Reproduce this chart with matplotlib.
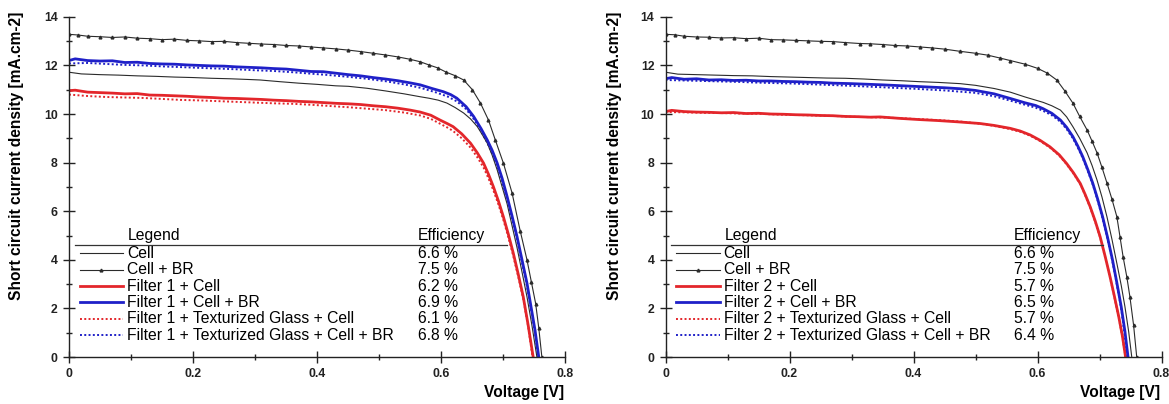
import matplotlib
matplotlib.use("Agg")
import matplotlib.pyplot as plt
from matplotlib.ticker import MultipleLocator

plt.rcParams['font.family'] = ['Liberation Sans', 'DejaVu Sans']

# ---------------- data ----------------
# Left panel (Filter 1)
v_cellbr = [0.000, 0.015, 0.03, 0.05, 0.07, 0.09, 0.11, 0.13, 0.15, 0.17, 0.19, 0.21, 0.23, 0.25,
            0.27, 0.29, 0.31, 0.33, 0.35, 0.37, 0.39, 0.41, 0.43, 0.45, 0.47, 0.49, 0.51, 0.53,
            0.55, 0.566, 0.58, 0.594, 0.608, 0.622, 0.636, 0.65, 0.663, 0.676, 0.687, 0.700,
            0.714, 0.727, 0.738, 0.745, 0.752, 0.757, 0.762]
j_cellbr = [13.28, 13.25, 13.20, 13.18, 13.15, 13.17, 13.12, 13.10, 13.06, 13.08, 13.03, 13.01, 12.98, 12.99,
            12.94, 12.91, 12.88, 12.86, 12.82, 12.80, 12.76, 12.72, 12.68, 12.63, 12.57, 12.50, 12.43, 12.35,
            12.25, 12.15, 12.02, 11.90, 11.72, 11.58, 11.40, 11.00, 10.45, 9.75, 8.93, 7.98,
            6.75, 5.20, 4.00, 3.10, 2.20, 1.20, 0.00]

v_cell_1 = [0.0, 0.02, 0.05, 0.08, 0.11, 0.14, 0.17, 0.20, 0.23, 0.26, 0.29, 0.308, 0.34, 0.37, 0.40,
            0.43, 0.45, 0.48, 0.51, 0.54, 0.566, 0.58, 0.595, 0.609, 0.622, 0.636, 0.647, 0.658,
            0.666, 0.674, 0.682, 0.69, 0.698, 0.706, 0.714, 0.722, 0.730, 0.738, 0.746, 0.754]
j_cell_1 = [11.72, 11.65, 11.62, 11.60, 11.57, 11.55, 11.52, 11.50, 11.47, 11.45, 11.42, 11.40, 11.33, 11.27, 11.22,
            11.16, 11.14, 11.06, 10.95, 10.83, 10.71, 10.65, 10.57, 10.45, 10.27, 10.04, 9.80, 9.48,
            9.15, 8.80, 8.30, 7.70, 7.00, 6.30, 5.40, 4.50, 3.50, 2.48, 1.30, 0.00]

v_f1_br = [0.0, 0.01, 0.03, 0.05, 0.07, 0.09, 0.11, 0.13, 0.15, 0.17, 0.19, 0.21, 0.23, 0.25, 0.27, 0.29,
           0.31, 0.33, 0.35, 0.37, 0.39, 0.41, 0.43, 0.45, 0.47, 0.49, 0.51, 0.53, 0.55, 0.566, 0.585,
           0.603, 0.615, 0.625, 0.64, 0.652, 0.664, 0.674, 0.682, 0.69, 0.698, 0.706, 0.714, 0.722,
           0.730, 0.738, 0.745, 0.751, 0.757]
j_f1_br = [12.20, 12.27, 12.20, 12.18, 12.19, 12.12, 12.13, 12.08, 12.06, 12.05, 12.02, 12.00, 11.98, 11.97, 11.94, 11.92,
           11.90, 11.87, 11.85, 11.80, 11.75, 11.74, 11.68, 11.62, 11.57, 11.50, 11.44, 11.37, 11.28, 11.20, 11.05,
           10.92, 10.80, 10.65, 10.30, 9.90, 9.40, 8.93, 8.50, 7.98, 7.35, 6.60, 5.80, 4.95,
           4.00, 3.04, 2.00, 1.10, 0.00]

v_f1_tg_br = [0.0, 0.03, 0.06, 0.09, 0.12, 0.15, 0.18, 0.21, 0.24, 0.27, 0.30, 0.33, 0.36, 0.39, 0.42,
              0.45, 0.48, 0.51, 0.54, 0.566, 0.59, 0.61, 0.625, 0.64, 0.652, 0.664, 0.674, 0.682,
              0.69, 0.698, 0.706, 0.714, 0.722, 0.730, 0.738, 0.745, 0.751, 0.756]
j_f1_tg_br = [12.08, 12.10, 12.06, 12.02, 12.00, 11.96, 11.93, 11.90, 11.87, 11.84, 11.80, 11.77, 11.72, 11.66, 11.60,
              11.53, 11.45, 11.35, 11.22, 11.08, 10.90, 10.72, 10.52, 10.20, 9.80, 9.30, 8.82, 8.38,
              7.85, 7.22, 6.48, 5.68, 4.82, 3.88, 2.92, 1.90, 1.00, 0.00]

v_f1 = [0.0, 0.01, 0.03, 0.05, 0.07, 0.09, 0.11, 0.13, 0.15, 0.17, 0.19, 0.21, 0.23, 0.25, 0.27, 0.29,
        0.31, 0.33, 0.35, 0.37, 0.39, 0.41, 0.43, 0.45, 0.47, 0.49, 0.51, 0.53, 0.55, 0.566, 0.583,
        0.598, 0.61, 0.619, 0.633, 0.647, 0.658, 0.668, 0.676, 0.684, 0.692, 0.70, 0.708, 0.716,
        0.724, 0.732, 0.740, 0.748]
j_f1 = [10.96, 10.98, 10.90, 10.88, 10.86, 10.83, 10.84, 10.78, 10.77, 10.75, 10.73, 10.70, 10.68, 10.65, 10.64, 10.62,
        10.60, 10.57, 10.55, 10.52, 10.50, 10.47, 10.44, 10.42, 10.39, 10.34, 10.30, 10.24, 10.16, 10.08, 9.95,
        9.75, 9.60, 9.48, 9.18, 8.80, 8.40, 7.98, 7.52, 7.00, 6.42, 5.77, 5.05, 4.27,
        3.40, 2.48, 1.30, 0.00]

v_f1_tg = [0.0, 0.03, 0.06, 0.09, 0.12, 0.15, 0.18, 0.21, 0.24, 0.27, 0.30, 0.33, 0.36, 0.39, 0.42, 0.45,
           0.48, 0.51, 0.54, 0.566, 0.583, 0.598, 0.61, 0.619, 0.633, 0.647, 0.658, 0.668, 0.676,
           0.684, 0.692, 0.70, 0.708, 0.716, 0.724, 0.732, 0.740, 0.747]
j_f1_tg = [10.80, 10.74, 10.70, 10.68, 10.66, 10.62, 10.58, 10.56, 10.53, 10.50, 10.47, 10.44, 10.42, 10.38, 10.33, 10.28,
           10.22, 10.16, 10.06, 9.94, 9.80, 9.60, 9.44, 9.30, 9.00, 8.62, 8.22, 7.80, 7.35,
           6.85, 6.28, 5.64, 4.93, 4.15, 3.30, 2.40, 1.25, 0.00]

# Right panel (Filter 2)
v_cellbr_2 = [0.000, 0.015, 0.03, 0.05, 0.07, 0.09, 0.11, 0.13, 0.15, 0.17, 0.19, 0.21, 0.23, 0.25,
              0.27, 0.29, 0.314, 0.33, 0.35, 0.37, 0.39, 0.41, 0.43, 0.45, 0.475, 0.50, 0.52, 0.54,
              0.556, 0.58, 0.60, 0.616, 0.631, 0.644, 0.657, 0.668, 0.68, 0.688, 0.696, 0.704,
              0.712, 0.720, 0.728, 0.733, 0.738, 0.744, 0.749, 0.755, 0.760]
j_cellbr_2 = [13.28, 13.26, 13.20, 13.17, 13.16, 13.13, 13.14, 13.10, 13.12, 13.06, 13.05, 13.03, 13.01, 12.99,
              12.98, 12.94, 12.90, 12.89, 12.86, 12.82, 12.80, 12.76, 12.72, 12.67, 12.58, 12.50, 12.42, 12.30,
              12.20, 12.05, 11.88, 11.68, 11.40, 10.95, 10.45, 9.90, 9.34, 8.88, 8.40, 7.80,
              7.16, 6.50, 5.77, 4.95, 4.13, 3.30, 2.48, 1.30, 0.00]

v_cell_2 = [0.0, 0.02, 0.05, 0.08, 0.11, 0.14, 0.17, 0.20, 0.23, 0.26, 0.29, 0.32, 0.35, 0.38, 0.41,
            0.44, 0.475, 0.50, 0.53, 0.556, 0.58, 0.609, 0.623, 0.637, 0.647, 0.657, 0.668, 0.68,
            0.688, 0.696, 0.704, 0.712, 0.720, 0.728, 0.735, 0.741, 0.747, 0.752]
j_cell_2 = [11.72, 11.64, 11.62, 11.60, 11.58, 11.57, 11.54, 11.52, 11.50, 11.48, 11.47, 11.44, 11.40, 11.37, 11.33,
            11.30, 11.25, 11.18, 11.05, 10.90, 10.70, 10.48, 10.34, 10.16, 9.88, 9.48, 9.00, 8.40,
            7.88, 7.28, 6.58, 5.77, 4.85, 3.85, 2.95, 2.07, 1.05, 0.00]

v_f2_br = [0.0, 0.01, 0.03, 0.05, 0.07, 0.09, 0.11, 0.13, 0.15, 0.17, 0.19, 0.21, 0.23, 0.25, 0.27, 0.30,
           0.35, 0.40, 0.45, 0.475, 0.50, 0.53, 0.556, 0.58, 0.597, 0.609, 0.623, 0.637, 0.647, 0.657,
           0.665, 0.673, 0.681, 0.689, 0.697, 0.705, 0.713, 0.721, 0.728, 0.735, 0.741, 0.746]
j_f2_br = [11.45, 11.50, 11.43, 11.45, 11.40, 11.41, 11.38, 11.39, 11.36, 11.36, 11.34, 11.33, 11.31, 11.30, 11.27, 11.25,
           11.20, 11.14, 11.08, 11.04, 10.97, 10.83, 10.64, 10.46, 10.35, 10.22, 10.03, 9.75, 9.45, 9.07,
           8.68, 8.24, 7.72, 7.16, 6.50, 5.77, 4.92, 3.99, 3.05, 2.07, 1.05, 0.00]

v_f2_tg_br = [0.0, 0.03, 0.06, 0.09, 0.12, 0.15, 0.18, 0.21, 0.24, 0.27, 0.30, 0.35, 0.40, 0.45, 0.50,
              0.53, 0.556, 0.58, 0.597, 0.609, 0.623, 0.637, 0.647, 0.657, 0.665, 0.673, 0.681,
              0.689, 0.697, 0.705, 0.713, 0.721, 0.728, 0.735, 0.740, 0.745]
j_f2_tg_br = [11.40, 11.38, 11.36, 11.34, 11.32, 11.29, 11.27, 11.25, 11.22, 11.19, 11.16, 11.10, 11.04, 10.97, 10.87,
              10.73, 10.55, 10.38, 10.26, 10.13, 9.95, 9.68, 9.38, 9.00, 8.62, 8.18, 7.66, 7.10,
              6.44, 5.70, 4.86, 3.92, 2.98, 2.00, 1.00, 0.00]

v_f2 = [0.0, 0.01, 0.03, 0.05, 0.07, 0.09, 0.11, 0.13, 0.15, 0.17, 0.19, 0.21, 0.23, 0.25, 0.27, 0.29,
        0.31, 0.33, 0.346, 0.378, 0.41, 0.44, 0.47, 0.507, 0.53, 0.556, 0.572, 0.588, 0.604, 0.62,
        0.635, 0.647, 0.658, 0.669, 0.677, 0.685, 0.693, 0.701, 0.709, 0.717, 0.724, 0.731, 0.737, 0.742]
j_f2 = [10.10, 10.15, 10.10, 10.08, 10.07, 10.05, 10.06, 10.02, 10.03, 10.00, 9.99, 9.97, 9.96, 9.94, 9.93, 9.90,
        9.89, 9.87, 9.88, 9.82, 9.77, 9.73, 9.68, 9.61, 9.53, 9.41, 9.30, 9.14, 8.92, 8.65,
        8.32, 7.96, 7.58, 7.14, 6.68, 6.18, 5.60, 4.95, 4.15, 3.30, 2.50, 1.66, 0.85, 0.00]

v_f2_tg = [0.0, 0.03, 0.06, 0.09, 0.12, 0.15, 0.18, 0.21, 0.24, 0.27, 0.30, 0.33, 0.36, 0.40, 0.44,
           0.48, 0.52, 0.556, 0.572, 0.588, 0.604, 0.62, 0.635, 0.647, 0.658, 0.669, 0.677, 0.685,
           0.693, 0.701, 0.709, 0.717, 0.724, 0.731, 0.737, 0.742]
j_f2_tg = [10.08, 10.07, 10.05, 10.04, 10.02, 10.01, 9.98, 9.96, 9.94, 9.92, 9.89, 9.87, 9.85, 9.80, 9.75,
           9.68, 9.56, 9.38, 9.27, 9.11, 8.89, 8.62, 8.29, 7.93, 7.55, 7.11, 6.65, 6.15,
           5.57, 4.92, 4.12, 3.27, 2.47, 1.63, 0.82, 0.00]

labels_1 = ["Cell", "Cell + BR", "Filter 1 + Cell", "Filter 1 + Cell + BR",
            "Filter 1 + Texturized Glass + Cell", "Filter 1 + Texturized Glass + Cell + BR"]
eff_1 = ["6.6 %", "7.5 %", "6.2 %", "6.9 %", "6.1 %", "6.8 %"]
labels_2 = ["Cell", "Cell + BR", "Filter 2 + Cell", "Filter 2 + Cell + BR",
            "Filter 2 + Texturized Glass + Cell", "Filter 2 + Texturized Glass + Cell + BR"]
eff_2 = ["6.6 %", "7.5 %", "5.7 %", "6.5 %", "5.7 %", "6.4 %"]

# ---------------- styles ----------------
RED = '#e3262b'
BLUE = '#1f20c8'
GREY = '#2b2b2b'
styles = [
    dict(color=GREY, lw=0.8, ls='-'),
    dict(color=GREY, lw=0.8, ls='-', marker='^', ms=2.0, mfc=GREY, mec=GREY),
    dict(color=RED, lw=2.0, ls='-'),
    dict(color=BLUE, lw=2.0, ls='-'),
    dict(color=RED, lw=1.4, ls=(0, (1, 1.2))),
    dict(color=BLUE, lw=1.4, ls=(0, (1, 1.2))),
]

fig = plt.figure(figsize=(11.69, 4.04), dpi=100)
ax1 = fig.add_axes([0.0590, 0.1163, 0.4247, 0.8421])
ax2 = fig.add_axes([0.5693, 0.1163, 0.4243, 0.8421])

panels = [
    (ax1, [(v_cell_1, j_cell_1), (v_cellbr, j_cellbr), (v_f1, j_f1), (v_f1_br, j_f1_br),
           (v_f1_tg, j_f1_tg), (v_f1_tg_br, j_f1_tg_br)], labels_1, eff_1, 17, 564),
    (ax2, [(v_cell_2, j_cell_2), (v_cellbr_2, j_cellbr_2), (v_f2, j_f2), (v_f2_br, j_f2_br),
           (v_f2_tg, j_f2_tg), (v_f2_tg_br, j_f2_tg_br)], labels_2, eff_2, 615, 1160),
]

LFS = 11.3
draw_order = [4, 5, 0, 2, 3, 1]
for ax, series, labels, effs, ylab_x, xlab_r in panels:
    for i in draw_order:
        v, j = series[i]
        ax.plot(v, j, **styles[i])
    ax.set_xlim(0, 0.8)
    ax.set_ylim(0, 14)
    for s in ['top', 'right']:
        ax.spines[s].set_visible(False)
    for s in ['left', 'bottom']:
        ax.spines[s].set_linewidth(1.0)
        ax.spines[s].set_color('#222222')
    ax.xaxis.set_major_locator(MultipleLocator(0.2))
    ax.xaxis.set_minor_locator(MultipleLocator(0.1))
    ax.yaxis.set_major_locator(MultipleLocator(2))
    ax.yaxis.set_minor_locator(MultipleLocator(1))
    ax.tick_params(which='major', direction='inout', length=8, width=1.0, pad=4,
                   labelsize=8.8, colors='#222222')
    ax.tick_params(which='minor', direction='inout', length=5, width=1.0, colors='#222222')
    ax.xaxis.set_major_formatter(plt.FuncFormatter(lambda x, p: f"{x:g}"))
    for lab in ax.get_xticklabels() + ax.get_yticklabels():
        lab.set_fontweight('bold')

    # legend table
    ax.text(0.119, 0.3586, "Legend", transform=ax.transAxes, fontsize=LFS, va='center', ha='left')
    ax.text(0.703, 0.3586, "Efficiency", transform=ax.transAxes, fontsize=LFS, va='center', ha='left')
    ax.plot([0.012, 0.882], [0.329, 0.329], transform=ax.transAxes, color='#333333', lw=0.9,
            clip_on=False)
    rows_y = [0.3057, 0.2572, 0.2087, 0.1617, 0.1132, 0.0647]
    for k in range(6):
        y = rows_y[k]
        st = dict(styles[k])
        if 'marker' in st:
            st['markevery'] = [1]
        ax.plot([0.022, 0.0655, 0.109], [y, y, y], transform=ax.transAxes, **st)
        ax.text(0.117, y, labels[k], transform=ax.transAxes, fontsize=LFS, va='center', ha='left')
        ax.text(0.703, y, effs[k], transform=ax.transAxes, fontsize=LFS, va='center', ha='left')

    fig.text(ylab_x / 1169, 1 - 156 / 404, "Short circuit current density [mA.cm-2]",
             rotation=90, ha='center', va='center', fontsize=11.2, fontweight='bold')
    fig.text(xlab_r / 1169, 1 - 393 / 404, "Voltage [V]", ha='right', va='center',
             fontsize=11.2, fontweight='bold')

fig.savefig("out.png", dpi=100)
